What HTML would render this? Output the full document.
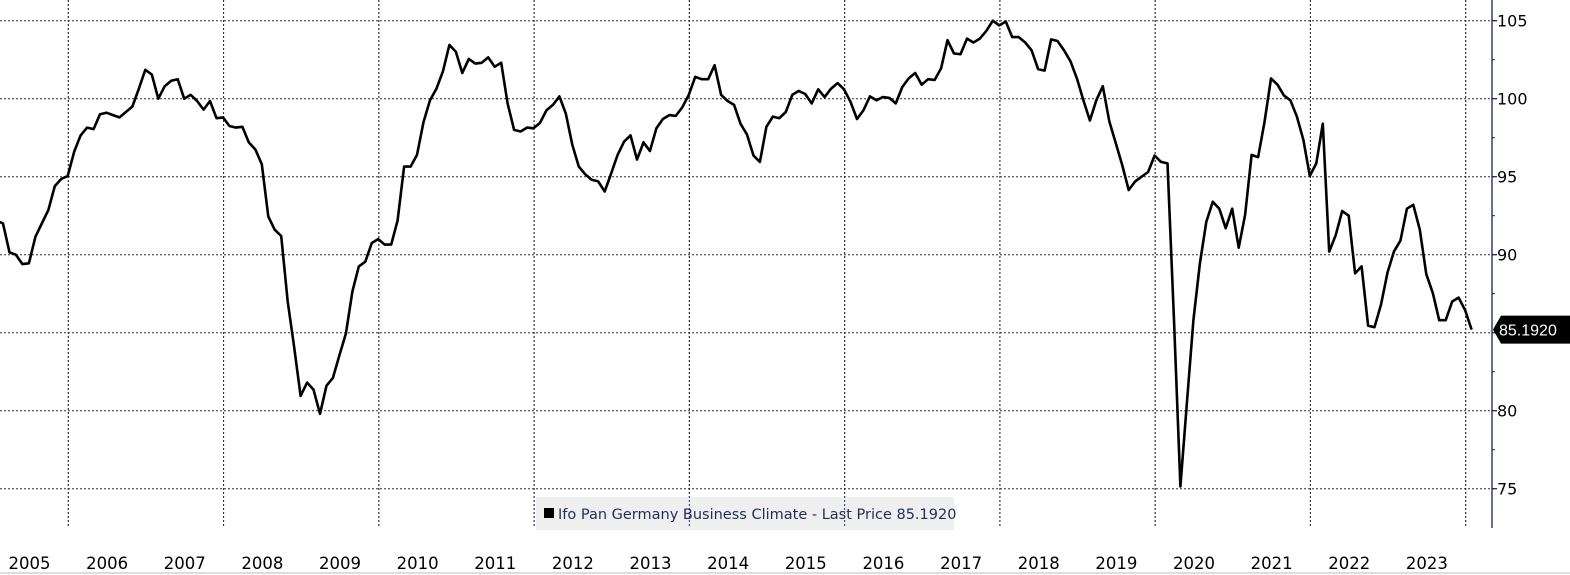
<!DOCTYPE html>
<html><head><meta charset="utf-8"><style>
html,body{margin:0;padding:0;background:#fff;}
svg{display:block;font-family:"DejaVu Sans","Liberation Sans",sans-serif;}
</style></head><body>
<svg id="chart" width="1570" height="575" viewBox="0 0 1570 575">
<g id="grid"></g>
<g id="axis"></g>
<g id="xlabels"></g>
<rect x="536" y="497" width="418" height="33" fill="#efefef"/>
<g id="vgrid2"></g>
<rect x="544" y="508" width="10" height="10" fill="#000"/>
<text x="558" y="519" font-size="14.5" fill="#1f2d5a">Ifo Pan Germany Business Climate - Last Price 85.1920</text>
<path id="line" fill="none" stroke="#000" stroke-width="2.6" stroke-linejoin="round"/>
<g id="tag"></g>
<line x1="0" y1="573" x2="1570" y2="573" stroke="#ddd" stroke-width="2"/>
</svg>
<script>
const startYear = 2005;
const values = [92.2,92.0,90.15,90.0,89.4,89.45,91.15,92.0,92.85,94.4,94.85,95.05,
96.6,97.65,98.15,98.05,99.0,99.1,98.95,98.8,99.15,99.5,100.65,101.85,
101.55,100.0,100.8,101.15,101.25,100.0,100.25,99.85,99.3,99.85,98.75,98.8,
98.25,98.15,98.2,97.2,96.75,95.8,92.45,91.6,91.2,87.0,84.1,80.95,
81.8,81.35,79.8,81.6,82.1,83.55,84.95,87.65,89.25,89.55,90.75,91.0,
90.65,90.65,92.2,95.65,95.65,96.4,98.5,99.9,100.65,101.75,103.45,103.0,
101.65,102.55,102.25,102.3,102.65,102.05,102.3,99.7,98.0,97.9,98.15,98.1,
98.45,99.25,99.6,100.15,99.05,97.05,95.65,95.15,94.8,94.7,94.05,95.2,
96.4,97.25,97.65,96.1,97.2,96.65,98.1,98.7,98.95,98.9,99.45,100.25,
101.4,101.25,101.25,102.15,100.25,99.85,99.6,98.4,97.7,96.35,95.95,98.2,
98.85,98.75,99.15,100.25,100.5,100.3,99.7,100.6,100.1,100.65,101.0,100.6,
99.8,98.7,99.25,100.15,99.9,100.1,100.05,99.7,100.75,101.3,101.65,100.9,
101.25,101.2,101.95,103.75,102.9,102.85,103.85,103.6,103.85,104.35,105.0,104.7,
104.95,103.95,103.95,103.6,103.1,101.9,101.8,103.8,103.7,103.1,102.4,101.3,
99.9,98.6,99.9,100.8,98.55,97.15,95.75,94.15,94.7,95.0,95.3,96.35,
95.95,95.85,85.8,75.15,80.5,85.8,89.45,92.1,93.4,92.95,91.7,92.95,
90.45,92.55,96.4,96.25,98.5,101.3,100.9,100.2,99.9,98.85,97.35,95.05,
95.85,98.4,90.2,91.25,92.8,92.5,88.8,89.25,85.45,85.35,86.8,88.85,
90.2,90.9,92.95,93.2,91.6,88.75,87.55,85.8,85.8,87.0,87.25,86.45,
85.2];
const yTicks = [75,80,85,90,95,100,105];
const yearLabels = [2005,2006,2007,2008,2009,2010,2011,2012,2013,2014,2015,2016,2017,2018,2019,2020,2021,2022,2023];
const lastLabel = "85.1920";

const NS="http://www.w3.org/2000/svg";
const X0=68.3, PXY=(1465.7-68.3)/18, AXX=1492;
function yearX(y){return X0+(y-2006)*PXY;}
function monthX(i){return yearX(startYear)+(i+1)*PXY/12-0.6;}
function yV(v){return 20.7+(105-v)*15.6;}
function mk(tag,attrs,parent){const e=document.createElementNS(NS,tag);for(const k in attrs)e.setAttribute(k,attrs[k]);parent.appendChild(e);return e;}
const grid=document.getElementById('grid'), axis=document.getElementById('axis'), xl=document.getElementById('xlabels'), vg2=document.getElementById('vgrid2');
yTicks.forEach(t=>{
  const y=yV(t);
  const g=mk('line',{x1:0,x2:AXX,y1:y,y2:y,stroke:'#2a2f55','stroke-width':1,'stroke-dasharray':'2,2'},grid);
  
  
  const tk=mk('line',{x1:AXX,x2:AXX+5,y1:y,y2:y,stroke:'#1b2050','stroke-width':1.3},axis);
  
  
  const lb=mk('text',{x:AXX+5,y:y+6,'font-size':16,fill:'#000'},axis);
  
  
  lb.textContent=t;
  const mn=mk('line',{x1:AXX,x2:AXX+3,y1:y-39,y2:y-39,stroke:'#1b2050','stroke-width':1},axis);
  
  
});
mk('line',{x1:AXX,x2:AXX,y1:0,y2:528,stroke:'#1b2050','stroke-width':1.3},axis);
for(let y=2006;y<=2024;y+=2){
  const x=yearX(y);
  [grid,vg2].forEach(p=>{
    const v=mk('line',{x1:x,x2:x,y1:0,y2:528,stroke:'#2a2f55','stroke-width':1,'stroke-dasharray':'2,2'},p);
    
    
  });
}
yearLabels.forEach(y=>{
  const t=mk('text',{x:yearX(y)+PXY/2,y:569,'font-size':16.5,'text-anchor':'middle',fill:'#000'},xl);
  
  
  t.textContent=y;
});
let d='';
values.forEach((v,i)=>{d+=(i?'L':'M')+monthX(i).toFixed(1)+','+yV(v).toFixed(1);});
document.getElementById('line').setAttribute('d',d);
const ly=yV(values[values.length-1]);
const tag=document.getElementById('tag');
mk('path',{d:`M${AXX+1},${ly} L${AXX+9},${ly-14} L1570,${ly-14} L1570,${ly+14} L${AXX+9},${ly+14} Z`,fill:'#000'},tag);
const tt=mk('text',{x:AXX+7,y:ly+6,'font-size':16,fill:'#fff','font-family':'"Liberation Sans",sans-serif'},tag);


tt.textContent=lastLabel;
</script>
</body></html>
